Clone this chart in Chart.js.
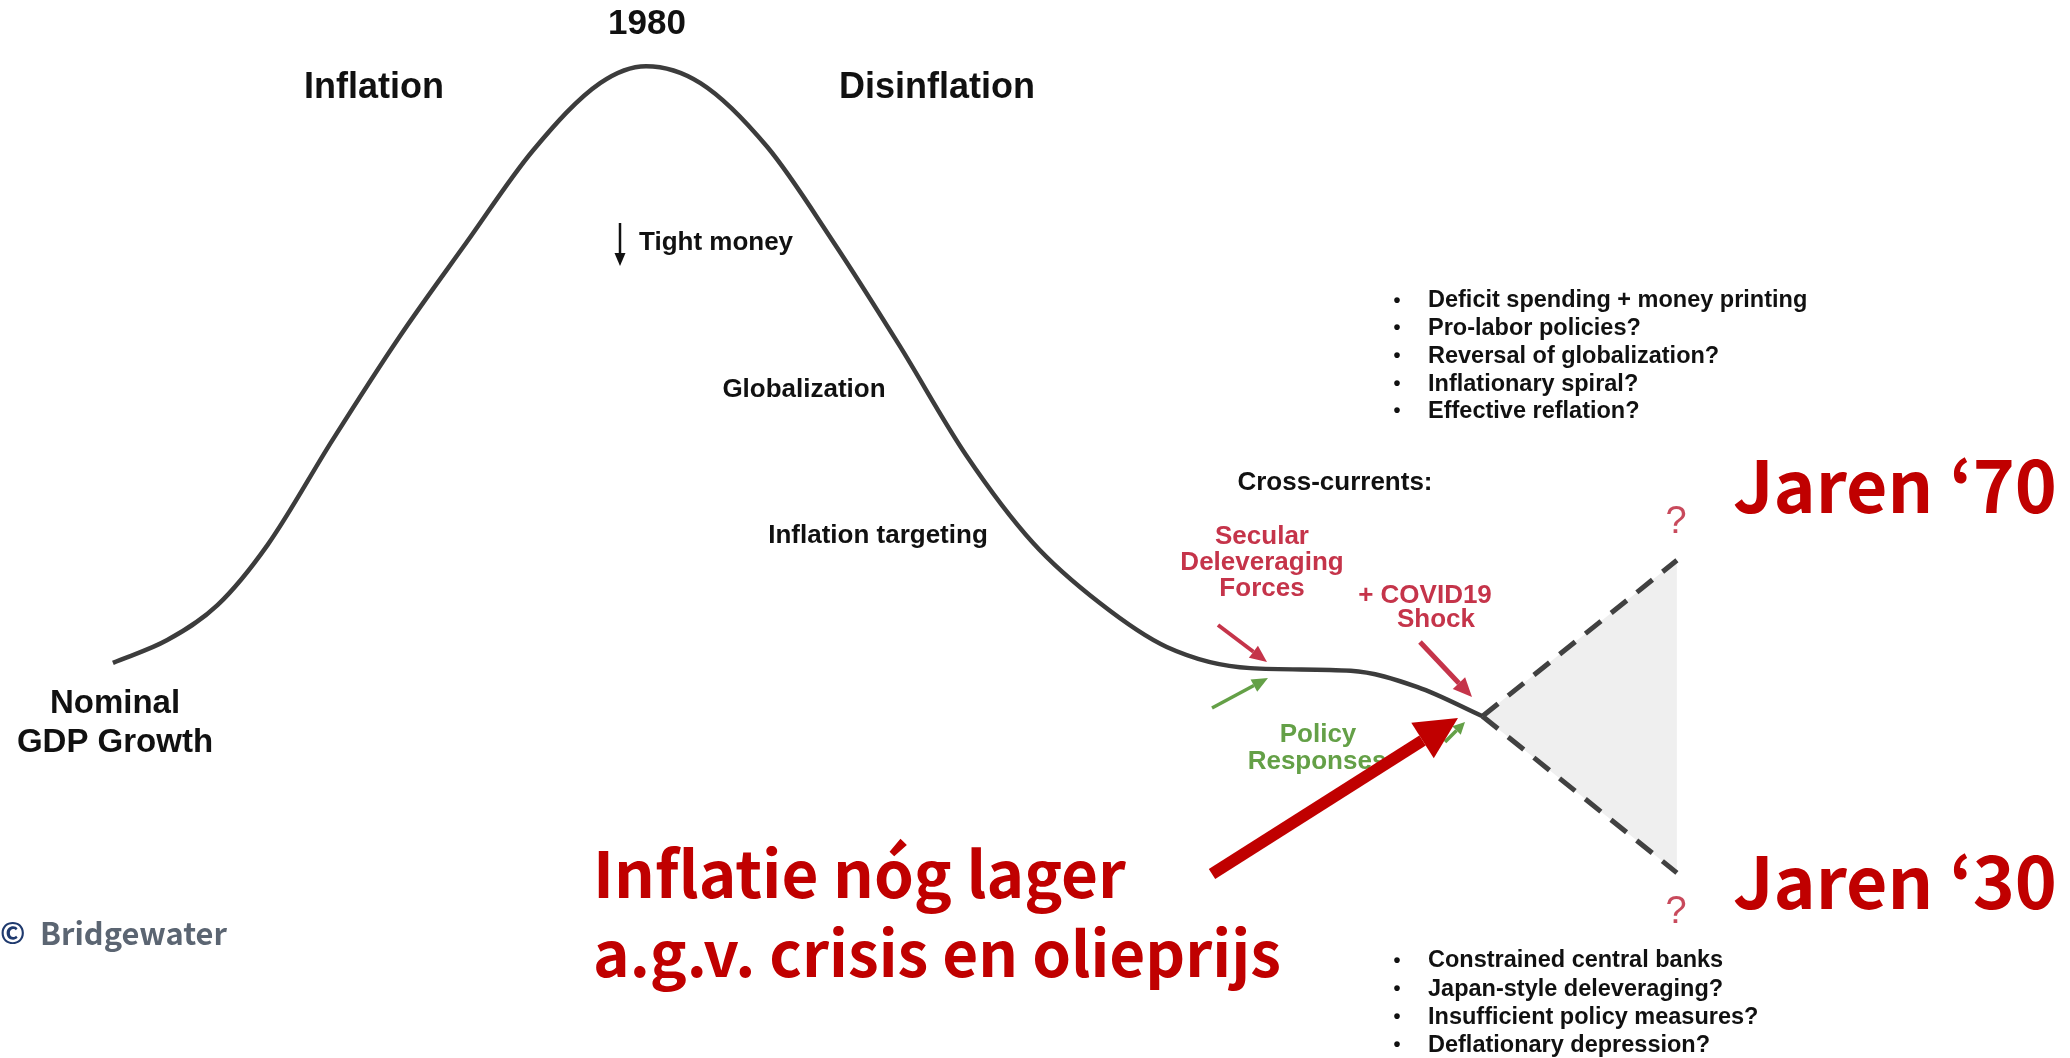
<!DOCTYPE html>
<html>
<head>
<meta charset="utf-8">
<script src="https://cdn.jsdelivr.net/npm/chart.js@4.4.1/dist/chart.umd.min.js"></script>
<style>
  html, body { margin: 0; padding: 0; background: #fff; }
  canvas { display: block; }
</style>
</head>
<body>
<canvas id="cycle" width="2070" height="1058"></canvas>
<script>
// long-term nominal GDP growth cycle (conceptual)
const years = [1954.4, 1957.0, 1959.4, 1961.8, 1964.9, 1968.1, 1971.3, 1974.5, 1977.7, 1979.9,
  1982.5, 1985.7, 1988.8, 1992.0, 1995.2, 1998.4, 2001.6, 2004.8, 2008.8, 2013.6,
  2016.8, 2019.9];
const growth = [3.47, 3.90, 4.56, 5.70, 7.68, 9.63, 11.41, 13.16, 14.43, 14.75,
  14.43, 13.22, 11.46, 9.48, 7.40, 5.74, 4.60, 3.77, 3.37, 3.32,
  3.01, 2.46];

// the two scenarios after COVID
const scenarioYears = [2019.9, 2029.2];
const upside = [2.46, 5.41];
const downside = [2.46, -0.50];

const topBullets = ['Deficit spending + money printing', 'Pro-labor policies?',
  'Reversal of globalization?', 'Inflationary spiral?', 'Effective reflation?'];
const bottomBullets = ['Constrained central banks', 'Japan-style deleveraging?',
  'Insufficient policy measures?', 'Deflationary depression?'];

const pts = (xs, ys) => xs.map((x, i) => ({ x: x, y: ys[i] }));

const ARIAL = '"Liberation Sans", Arial, sans-serif';
const KR = '"Noto Sans CJK KR", "Noto Sans", sans-serif';
const DARK_RED = '#c00000';
const ROSE = '#c5344a';
const GREEN = '#64a047';

function arrow(ctx, x1, y1, x2, y2, color, w, head, headW) {
  const a = Math.atan2(y2 - y1, x2 - x1);
  const bx = x2 - head * Math.cos(a), by = y2 - head * Math.sin(a);
  ctx.save();
  ctx.strokeStyle = color;
  ctx.fillStyle = color;
  ctx.lineWidth = w;
  ctx.beginPath();
  ctx.moveTo(x1, y1);
  ctx.lineTo(bx, by);
  ctx.stroke();
  ctx.beginPath();
  ctx.moveTo(x2, y2);
  ctx.lineTo(bx + headW / 2 * Math.sin(a), by - headW / 2 * Math.cos(a));
  ctx.lineTo(bx - headW / 2 * Math.sin(a), by + headW / 2 * Math.cos(a));
  ctx.closePath();
  ctx.fill();
  ctx.restore();
}

function txt(ctx, s, x, y, font, color, align) {
  ctx.font = font;
  ctx.fillStyle = color;
  ctx.textAlign = align || 'center';
  ctx.textBaseline = 'middle';
  ctx.fillText(s, x, y);
}

// font size so that text s gets width w
function fitSize(ctx, s, w, weight, family) {
  ctx.font = weight + ' 100px ' + family;
  return 100 * w / ctx.measureText(s).width;
}

const labels = {
  id: 'labels',
  afterDatasetsDraw(chart) {
    const ctx = chart.ctx;
    ctx.save();

    txt(ctx, '1980', 647, 24, 'bold 35px ' + ARIAL, '#111');
    txt(ctx, 'Inflation', 374, 88, 'bold 36px ' + ARIAL, '#111');
    txt(ctx, 'Disinflation', 937, 88, 'bold 36px ' + ARIAL, '#111');
    txt(ctx, 'Tight money', 639, 243, 'bold 26px ' + ARIAL, '#111', 'left');
    arrow(ctx, 620, 223, 620, 266, '#111', 2.5, 13, 11);
    txt(ctx, 'Globalization', 804, 390, 'bold 26px ' + ARIAL, '#111');
    txt(ctx, 'Inflation targeting', 878, 536, 'bold 26px ' + ARIAL, '#111');

    txt(ctx, 'Nominal', 115, 704, 'bold 33px ' + ARIAL, '#111');
    txt(ctx, 'GDP Growth', 115, 743, 'bold 33px ' + ARIAL, '#111');

    topBullets.forEach((s, i) => {
      txt(ctx, '\u2022', 1397, 301 + i * 27.7, 'bold 20px ' + ARIAL, '#111');
      txt(ctx, s, 1428, 301 + i * 27.7, 'bold 23.5px ' + ARIAL, '#111', 'left');
    });
    bottomBullets.forEach((s, i) => {
      txt(ctx, '\u2022', 1397, 961 + i * 28.3, 'bold 20px ' + ARIAL, '#111');
      txt(ctx, s, 1428, 961 + i * 28.3, 'bold 23.5px ' + ARIAL, '#111', 'left');
    });

    txt(ctx, 'Cross-currents:', 1335, 483, 'bold 26px ' + ARIAL, '#111');

    txt(ctx, 'Secular', 1262, 537, 'bold 26px ' + ARIAL, ROSE);
    txt(ctx, 'Deleveraging', 1262, 563, 'bold 26px ' + ARIAL, ROSE);
    txt(ctx, 'Forces', 1262, 589, 'bold 26px ' + ARIAL, ROSE);
    txt(ctx, '+ COVID19', 1425, 596, 'bold 26px ' + ARIAL, ROSE);
    txt(ctx, 'Shock', 1436, 620, 'bold 26px ' + ARIAL, ROSE);
    txt(ctx, 'Policy', 1318, 735, 'bold 26px ' + ARIAL, GREEN);
    txt(ctx, 'Responses', 1317, 762, 'bold 26px ' + ARIAL, GREEN);

    txt(ctx, '?', 1676, 523, '38px ' + ARIAL, '#c84a5c');
    txt(ctx, '?', 1676, 913, '38px ' + ARIAL, '#c84a5c');

    arrow(ctx, 1218, 625, 1267, 662, ROSE, 4, 17, 15);
    arrow(ctx, 1420, 642, 1472, 697, ROSE, 5, 19, 17);
    arrow(ctx, 1212, 708, 1268, 678, GREEN, 3.5, 16, 14);
    arrow(ctx, 1445, 742, 1465, 722, GREEN, 3.5, 12, 12);

    // Dutch call-outs
    const l1 = fitSize(ctx, 'Inflatie nóg lager', 533, 'bold', KR);
    const l2 = fitSize(ctx, 'a.g.v. crisis en olieprijs', 688, 'bold', KR);
    txt(ctx, 'Inflatie nóg lager', 593, 874, 'bold ' + l1 + 'px ' + KR, DARK_RED, 'left');
    txt(ctx, 'a.g.v. crisis en olieprijs', 593, 953, 'bold ' + l2 + 'px ' + KR, DARK_RED, 'left');
    const jaren = fitSize(ctx, 'Jaren \u201870', 324, 'bold', KR);
    txt(ctx, 'Jaren \u201870', 1733, 486, 'bold ' + jaren + 'px ' + KR, DARK_RED, 'left');
    txt(ctx, 'Jaren \u201830', 1733, 882, 'bold ' + jaren + 'px ' + KR, DARK_RED, 'left');
    arrow(ctx, 1212, 874, 1458, 718, DARK_RED, 12, 42, 42);

    txt(ctx, '\u00a9', 0, 933, 'bold 30px ' + KR, '#1f3a6e', 'left');
    const bw = fitSize(ctx, 'Bridgewater', 187, 'bold', KR);
    txt(ctx, 'Bridgewater', 40, 933, 'bold ' + bw + 'px ' + KR, '#5b6572', 'left');

    ctx.restore();
  }
};

new Chart(document.getElementById('cycle'), {
  type: 'line',
  data: {
    datasets: [
      {
        label: 'Nominal GDP Growth',
        data: pts(years, growth),
        borderColor: '#3c3c3c',
        borderWidth: 4.5,
        pointRadius: 0,
        cubicInterpolationMode: 'monotone',
        fill: false
      },
      {
        label: 'Upside',
        data: pts(scenarioYears, upside),
        borderColor: '#414141',
        borderWidth: 5,
        borderDash: [20, 13],
        pointRadius: 0,
        tension: 0,
        fill: '+1',
        backgroundColor: '#efefef'
      },
      {
        label: 'Downside',
        data: pts(scenarioYears, downside),
        borderColor: '#414141',
        borderWidth: 5,
        borderDash: [20, 13],
        pointRadius: 0,
        tension: 0,
        fill: false
      }
    ]
  },
  options: {
    responsive: false,
    animation: false,
    layout: { padding: 0 },
    plugins: {
      legend: { display: false },
      tooltip: { enabled: false },
      filler: { drawTime: 'beforeDatasetsDraw' }
    },
    scales: {
      x: { type: 'linear', min: 1949, max: 2048, display: false },
      y: { min: -4, max: 16, display: false }
    }
  },
  plugins: [labels]
});
</script>
</body>
</html>
